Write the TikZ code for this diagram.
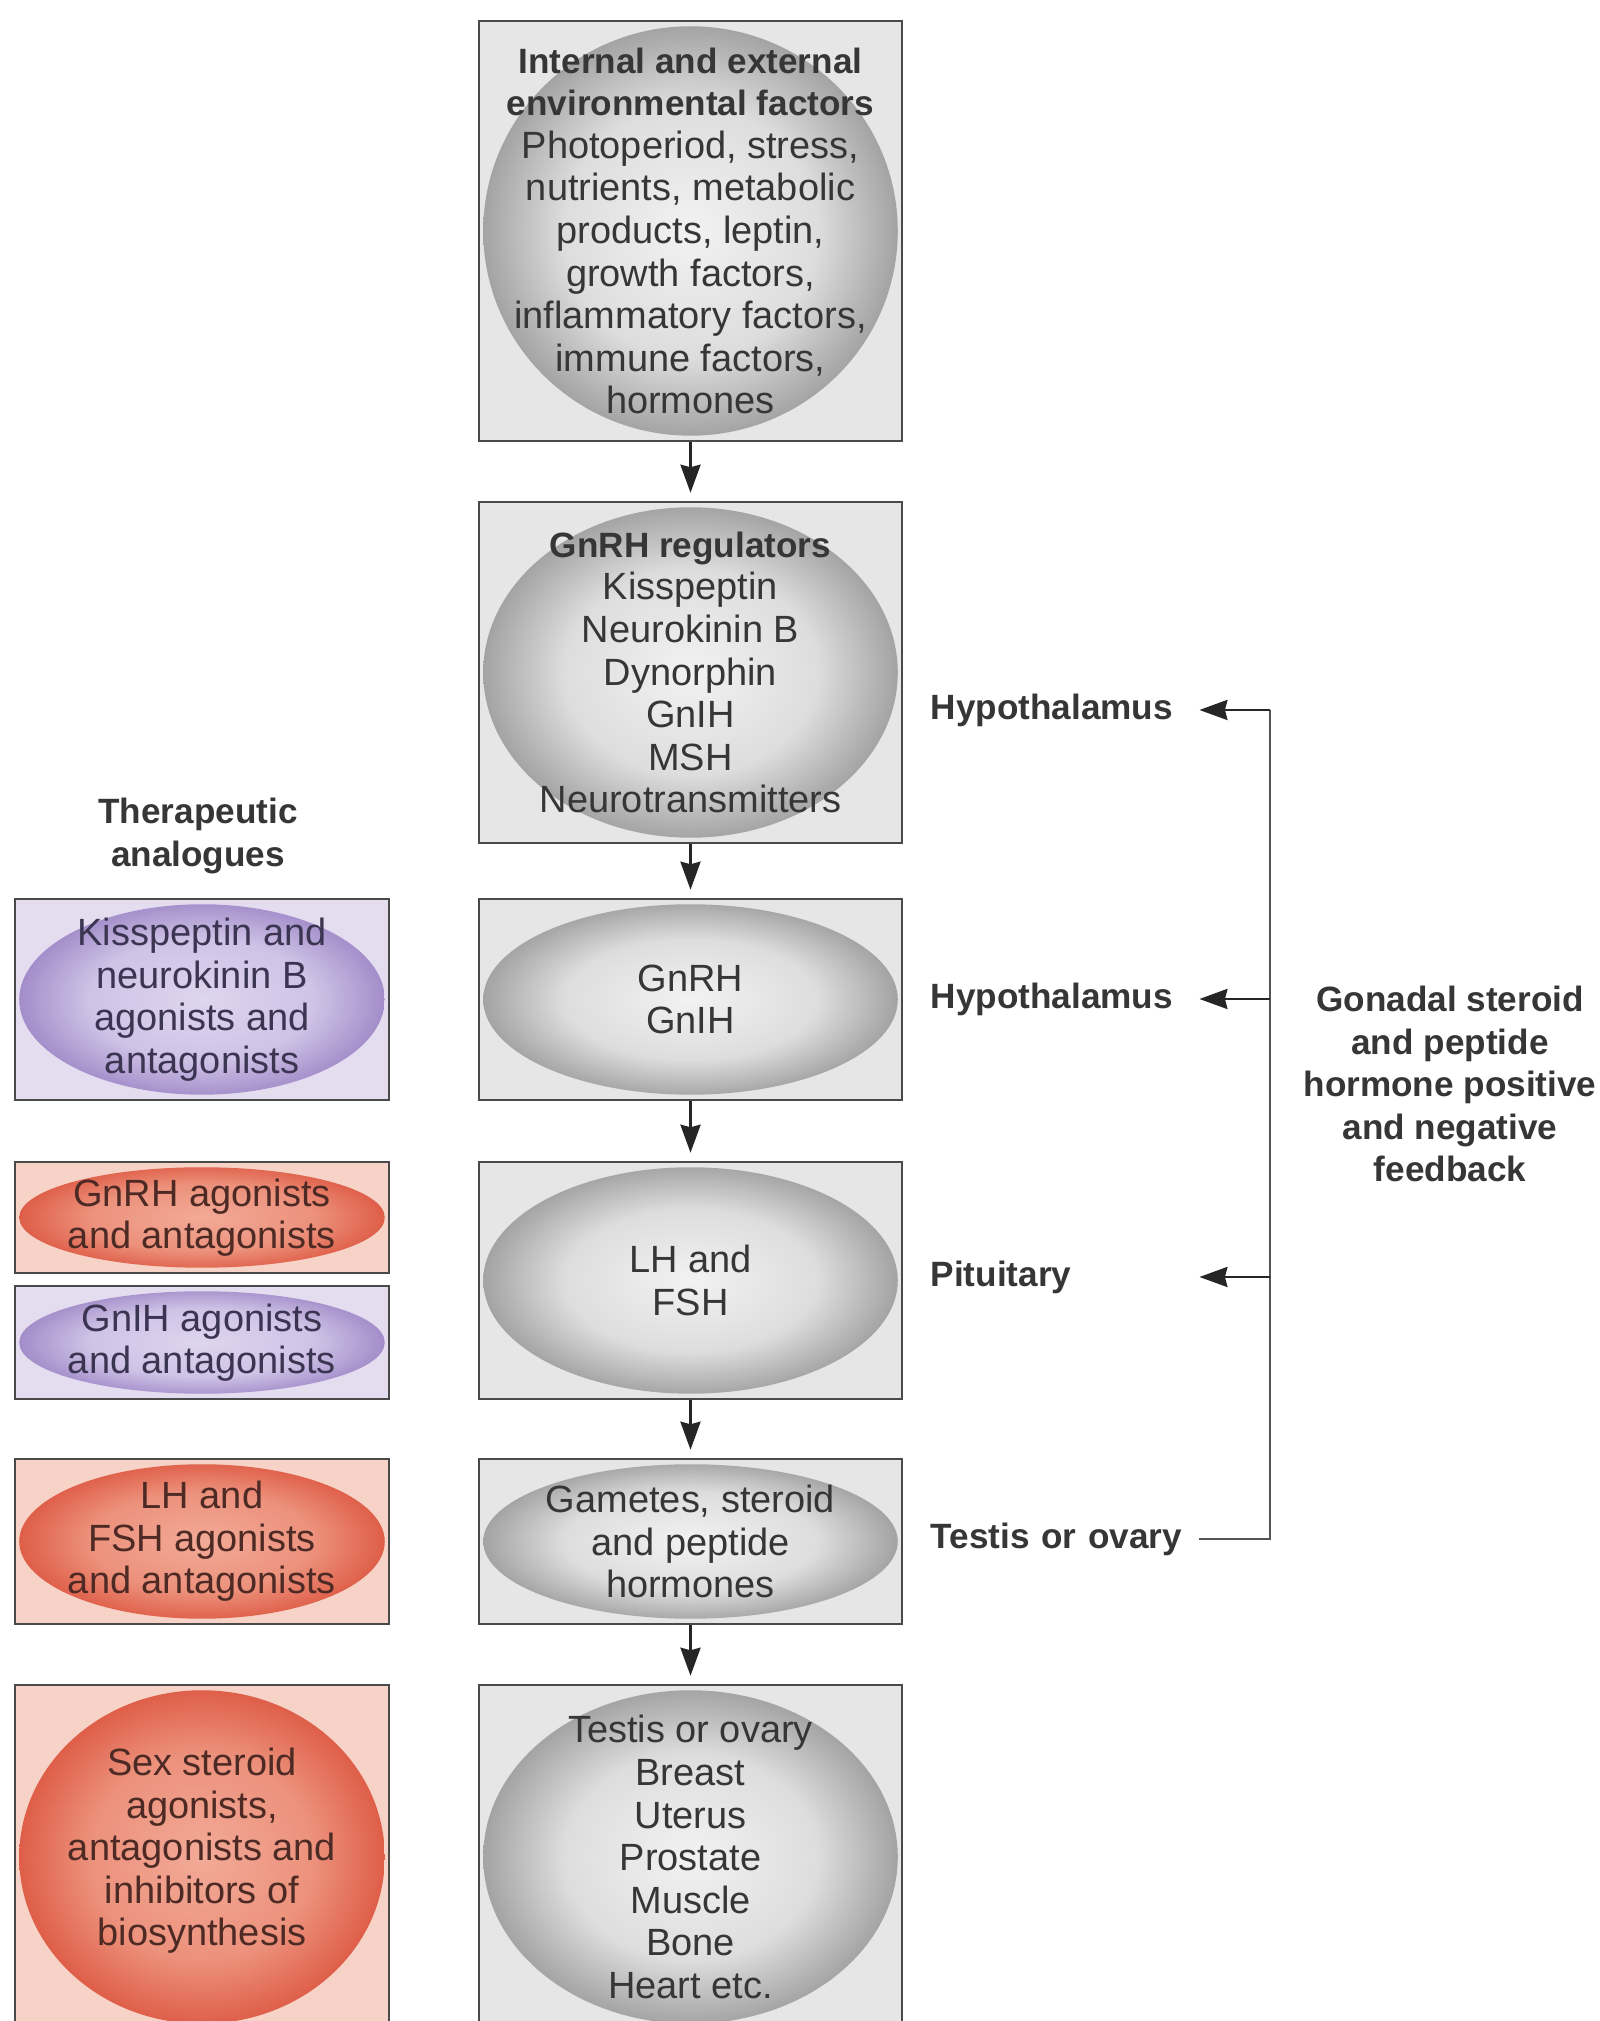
\documentclass[tikz,border=0pt]{standalone}
\usepackage{fontspec}
\setmainfont{Liberation Sans}
\usetikzlibrary{arrows.meta,calc}

\definecolor{boxline}{HTML}{4A4A4A}
\definecolor{arrowcol}{HTML}{262626}
\definecolor{fbcol}{HTML}{555555}
\definecolor{txt}{HTML}{363636}
\definecolor{greyBox}{HTML}{E6E6E6}
\definecolor{greyC}{HTML}{F2F2F2}
\definecolor{greyM}{HTML}{DDDDDD}
\definecolor{greyE}{HTML}{A0A0A0}
\definecolor{purpBox}{HTML}{E4DDF0}
\definecolor{purpC}{HTML}{DED5EE}
\definecolor{purpM}{HTML}{CFC3E6}
\definecolor{purpE}{HTML}{A08AC8}
\definecolor{purpTxt}{HTML}{3C3552}
\definecolor{redBox}{HTML}{F6D2C7}
\definecolor{redC}{HTML}{F2AA97}
\definecolor{redM}{HTML}{EC917C}
\definecolor{redE}{HTML}{DE5B45}
\definecolor{redTxt}{HTML}{4E2A25}

% shaded balls inside the boxes
\pgfdeclareradialshading{greyball}{\pgfpoint{0bp}{0bp}}{color(0bp)=(greyC); color(15bp)=(greyM); color(25bp)=(greyE); color(50bp)=(greyE)}
\pgfdeclareradialshading{purpball}{\pgfpoint{0bp}{0bp}}{color(0bp)=(purpC); color(15bp)=(purpM); color(25bp)=(purpE); color(50bp)=(purpE)}
\pgfdeclareradialshading{redball}{\pgfpoint{0bp}{0bp}}{color(0bp)=(redC); color(15bp)=(redM); color(25bp)=(redE); color(50bp)=(redE)}

\newcommand{\headtxt}[1]{{\fontsize{10}{12.1}\selectfont\bfseries #1}}

\tikzset{
  ball/.style={path picture={
      \shade[shading=#1] let \p1=($(path picture bounding box.north east)-(path picture bounding box.center)$)
        in (path picture bounding box.center) ellipse ({\x1-1.2pt} and {\y1-1.5pt});}},
  stage/.style={rectangle, draw=boxline, line width=0.7pt, fill=greyBox, ball=greyball,
    inner sep=0pt, align=center, minimum width=4.23cm, text=txt,
    font=\fontsize{10.8}{12.1}\selectfont},
  drugP/.style={stage, fill=purpBox, ball=purpball, minimum width=3.74cm, text=purpTxt},
  drugR/.style={stage, fill=redBox, ball=redball, minimum width=3.74cm, text=redTxt},
  side/.style={anchor=west, inner sep=0pt, text width=2.68cm, text=txt,
    font=\fontsize{10}{12.1}\selectfont\bfseries},
  heading/.style={align=center, inner sep=0pt, text=txt,
    font=\fontsize{10}{12.1}\selectfont\bfseries},
  tip/.style={-{Stealth[length=2.8mm,width=2mm,inset=0.25mm]}},
  flow/.style={draw=arrowcol, line width=0.8pt, tip, shorten >=0.8mm},
  fbline/.style={draw=fbcol, line width=0.8pt},
  fbarrow/.style={fbline, tip, arrowcol}
}

\begin{document}
\begin{tikzpicture}
  \useasboundingbox[fill=white] (0,0) rectangle (15.99,20.21);

  % main cascade
  \node[stage, minimum height=4.20cm] (env) at (6.905,17.90)
    {\headtxt{Internal and external}\\\headtxt{environmental factors}\\Photoperiod, stress,\\nutrients, metabolic\\products, leptin,\\growth factors,\\inflammatory factors,\\immune factors,\\hormones};
  \node[stage, minimum height=3.41cm] (reg) at (6.905,13.485)
    {\headtxt{GnRH regulators}\\Kisspeptin\\Neurokinin B\\Dynorphin\\GnIH\\MSH\\Neurotransmitters};
  \node[stage, minimum height=2.01cm] (gnrh) at (6.905,10.215) {GnRH\\GnIH};
  \node[stage, minimum height=2.37cm] (lhfsh) at (6.905,7.405) {LH and\\FSH};
  \node[stage, minimum height=1.65cm] (gam) at (6.905,4.795) {Gametes, steroid\\and peptide\\hormones};
  \node[stage, minimum height=3.44cm] (tgt) at (6.905,1.64)
    {Testis or ovary\\Breast\\Uterus\\Prostate\\Muscle\\Bone\\Heart etc.};

  \draw[flow] (env) -- (reg);
  \draw[flow] (reg) -- (gnrh);
  \draw[flow] (gnrh) -- (lhfsh);
  \draw[flow] (lhfsh) -- (gam);
  \draw[flow] (gam) -- (tgt);

  % therapeutic analogues
  \node[heading] (therap) at (1.98,11.85) {Therapeutic\\analogues};
  \node[drugP, minimum height=2.01cm] (kissAg) at (2.02,10.215) {Kisspeptin and\\neurokinin B\\agonists and\\antagonists};
  \node[drugR, minimum height=1.11cm] (gnrhAg) at (2.02,8.035) {GnRH agonists\\and antagonists};
  \node[drugP, minimum height=1.13cm] (gnihAg) at (2.02,6.785) {GnIH agonists\\and antagonists};
  \node[drugR, minimum height=1.65cm] (lhAg) at (2.02,4.795) {LH and\\FSH agonists\\and antagonists};
  \node[drugR, minimum height=3.44cm] (sexAg) at (2.02,1.64) {Sex steroid\\agonists,\\antagonists and\\inhibitors of\\biosynthesis\\[-6.4pt]};

  % feedback loop
  \node[side] (hyp1) at (9.30,13.11) {Hypothalamus};
  \node[side] (hyp2) at (9.30,10.22) {Hypothalamus};
  \node[side] (pit) at (9.30,7.44) {Pituitary};
  \node[side] (tes) at (9.30,4.82) {Testis or ovary};
  \node[heading] (gonad) at (14.50,9.37) {Gonadal steroid\\and peptide\\hormone positive\\and negative\\feedback};

  \coordinate (fbTop) at (12.70,13.11);
  \draw[fbline] (tes.east) -| (fbTop);
  \draw[fbarrow] (fbTop) -- (hyp1);
  \draw[fbarrow] (fbTop |- hyp2) -- (hyp2);
  \draw[fbarrow] (fbTop |- pit) -- (pit);
\end{tikzpicture}
\end{document}
